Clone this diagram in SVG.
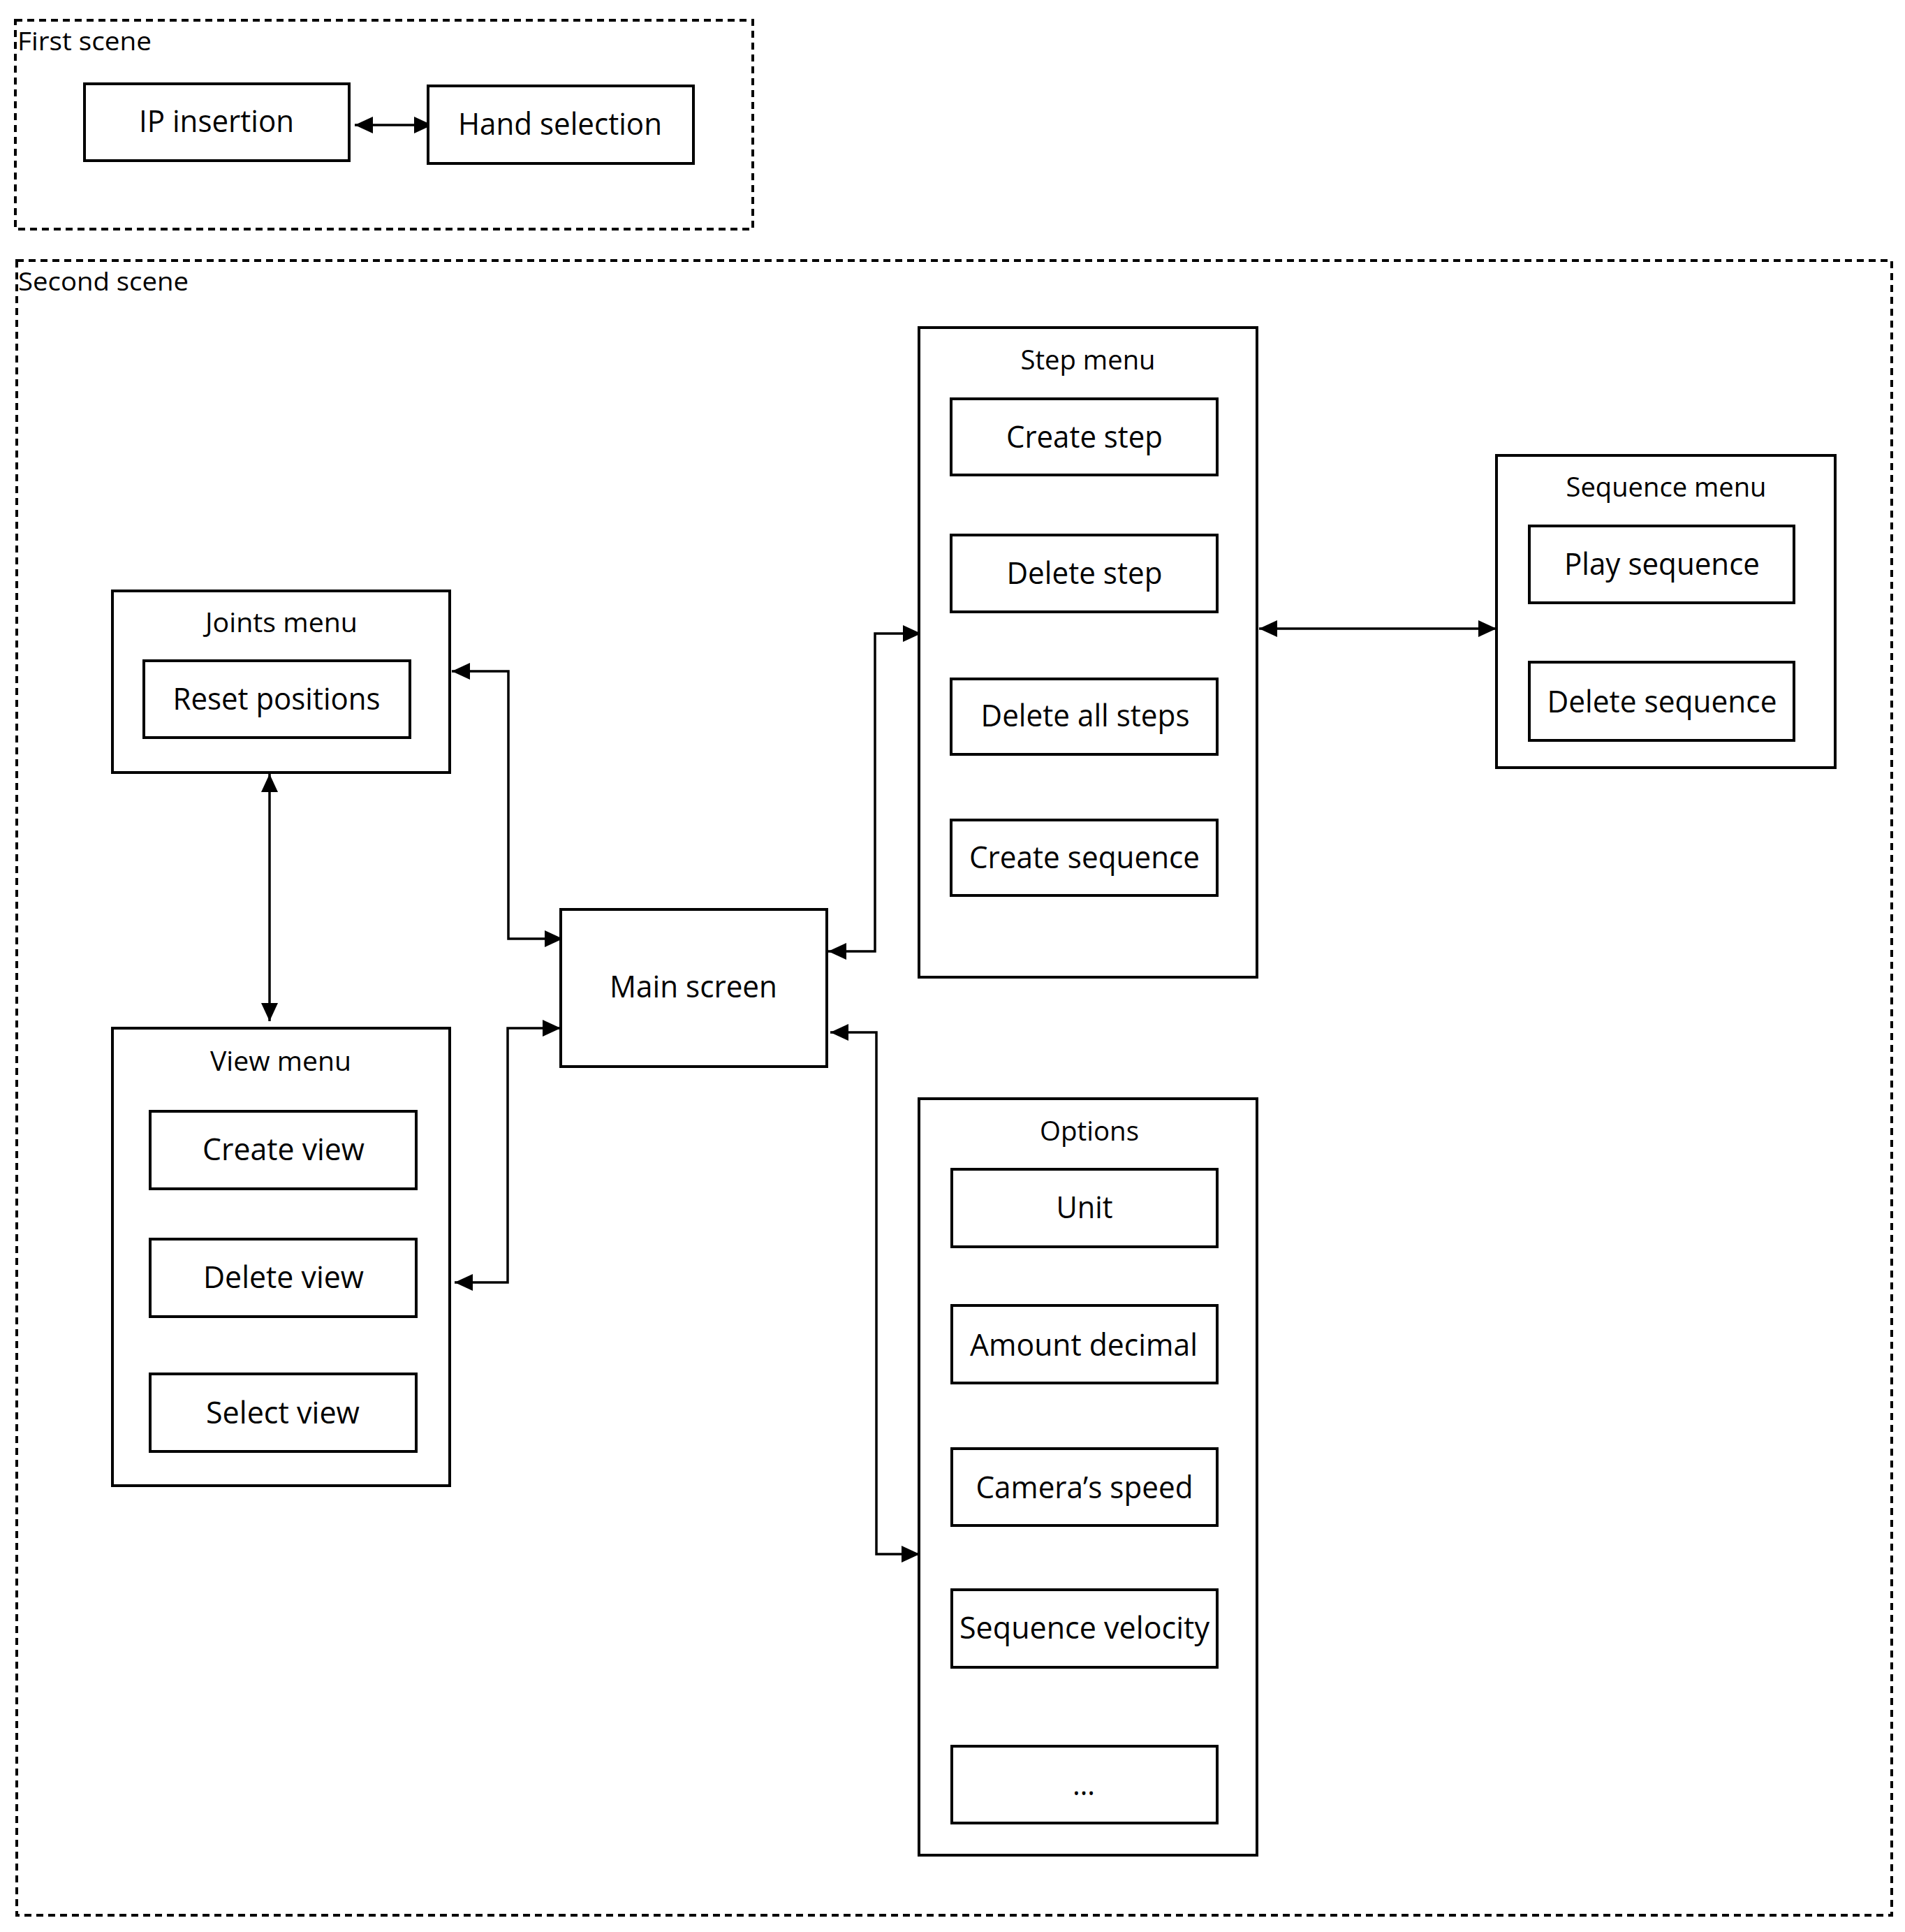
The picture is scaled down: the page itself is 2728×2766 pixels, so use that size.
<svg xmlns="http://www.w3.org/2000/svg" width="2728" height="2766" viewBox="0 0 2728 2766">
<style>
.scene{fill:none;stroke:#000;stroke-width:4;stroke-dasharray:10 7}
.box{fill:#fff;stroke:#000;stroke-width:4}
.t{font-family:"Open Sans","Noto Sans",sans-serif;fill:#000;text-anchor:middle;font-size:43px}
.ti{font-family:"Open Sans","Noto Sans",sans-serif;fill:#000;text-anchor:middle;font-size:39px}
.sl{font-family:"Open Sans","Noto Sans",sans-serif;fill:#000;font-size:37px}
.c{fill:none;stroke:#000;stroke-width:3.5}
</style>
<defs>
<marker id="ah" markerUnits="userSpaceOnUse" markerWidth="26" markerHeight="24" refX="26" refY="12" orient="auto-start-reverse">
<path d="M0,0 L26,12 L0,24 z" fill="#000"/>
</marker>
</defs>
<rect width="2728" height="2766" fill="#fff"/>

<g id="first-scene">
<rect class="scene" x="22" y="29" width="1056" height="299"/>
<text class="sl" x="25" y="72" textLength="192" lengthAdjust="spacingAndGlyphs">First scene</text>
</g>
<g id="second-scene">
<rect class="scene" x="24" y="373" width="2685" height="2369"/>
<text class="sl" x="26" y="416" textLength="244" lengthAdjust="spacingAndGlyphs">Second scene</text>
</g>

<g id="connectors">
<path class="c" d="M508,179 H619" marker-start="url(#ah)" marker-end="url(#ah)"/>
<path class="c" d="M386,1108 V1462" marker-start="url(#ah)" marker-end="url(#ah)"/>
<path class="c" d="M647,961 H728 V1344 H806" marker-start="url(#ah)" marker-end="url(#ah)"/>
<path class="c" d="M651,1836 H727 V1472 H803" marker-start="url(#ah)" marker-end="url(#ah)"/>
<path class="c" d="M1186,1362 H1253 V907 H1319" marker-start="url(#ah)" marker-end="url(#ah)"/>
<path class="c" d="M1189,1478 H1255 V2225 H1317" marker-start="url(#ah)" marker-end="url(#ah)"/>
<path class="c" d="M1803,900 H2143" marker-start="url(#ah)" marker-end="url(#ah)"/>
</g>

<g id="ip-insertion">
<rect class="box" x="121" y="120" width="379" height="110"/>
<text class="t" x="310" y="189" textLength="222" lengthAdjust="spacingAndGlyphs">IP insertion</text>
</g>
<g id="hand-selection">
<rect class="box" x="613" y="123" width="380" height="111"/>
<text class="t" x="802" y="193" textLength="292" lengthAdjust="spacingAndGlyphs">Hand selection</text>
</g>

<g id="joints-menu">
<rect class="box" x="161" y="846" width="483" height="260"/>
<text class="ti" x="403" y="905" textLength="218" lengthAdjust="spacingAndGlyphs">Joints menu</text>
<g id="reset-positions">
<rect class="box" x="206" y="946" width="381" height="110"/>
<text class="t" x="396" y="1016" textLength="297" lengthAdjust="spacingAndGlyphs">Reset positions</text>
</g>
</g>

<g id="view-menu">
<rect class="box" x="161" y="1472" width="483" height="655"/>
<text class="ti" x="402" y="1533" textLength="202" lengthAdjust="spacingAndGlyphs">View menu</text>
<g id="create-view">
<rect class="box" x="215" y="1591" width="381" height="111"/>
<text class="t" x="406" y="1661" textLength="232" lengthAdjust="spacingAndGlyphs">Create view</text>
</g>
<g id="delete-view">
<rect class="box" x="215" y="1774" width="381" height="111"/>
<text class="t" x="406" y="1844" textLength="230" lengthAdjust="spacingAndGlyphs">Delete view</text>
</g>
<g id="select-view">
<rect class="box" x="215" y="1967" width="381" height="111"/>
<text class="t" x="405" y="2038" textLength="220" lengthAdjust="spacingAndGlyphs">Select view</text>
</g>
</g>

<g id="main-screen">
<rect class="box" x="803" y="1302" width="381" height="225"/>
<text class="t" x="993" y="1428" textLength="240" lengthAdjust="spacingAndGlyphs">Main screen</text>
</g>

<g id="step-menu">
<rect class="box" x="1316" y="469" width="484" height="930"/>
<text class="ti" x="1558" y="529" textLength="193" lengthAdjust="spacingAndGlyphs">Step menu</text>
<g id="create-step">
<rect class="box" x="1362" y="571" width="381" height="109"/>
<text class="t" x="1553" y="641" textLength="224" lengthAdjust="spacingAndGlyphs">Create step</text>
</g>
<g id="delete-step">
<rect class="box" x="1362" y="766" width="381" height="110"/>
<text class="t" x="1553" y="836" textLength="223" lengthAdjust="spacingAndGlyphs">Delete step</text>
</g>
<g id="delete-all-steps">
<rect class="box" x="1362" y="972" width="381" height="108"/>
<text class="t" x="1554" y="1040" textLength="299" lengthAdjust="spacingAndGlyphs">Delete all steps</text>
</g>
<g id="create-sequence">
<rect class="box" x="1362" y="1174" width="381" height="108"/>
<text class="t" x="1553" y="1243" textLength="330" lengthAdjust="spacingAndGlyphs">Create sequence</text>
</g>
</g>

<g id="sequence-menu">
<rect class="box" x="2143" y="652" width="485" height="447"/>
<text class="ti" x="2386" y="711" textLength="287" lengthAdjust="spacingAndGlyphs">Sequence menu</text>
<g id="play-sequence">
<rect class="box" x="2190" y="753" width="379" height="110"/>
<text class="t" x="2380" y="823" textLength="280" lengthAdjust="spacingAndGlyphs">Play sequence</text>
</g>
<g id="delete-sequence">
<rect class="box" x="2190" y="948" width="379" height="112"/>
<text class="t" x="2380" y="1020" textLength="329" lengthAdjust="spacingAndGlyphs">Delete sequence</text>
</g>
</g>

<g id="options">
<rect class="box" x="1316" y="1573" width="484" height="1083"/>
<text class="ti" x="1560" y="1633" textLength="142" lengthAdjust="spacingAndGlyphs">Options</text>
<g id="unit">
<rect class="box" x="1363" y="1674" width="380" height="111"/>
<text class="t" x="1553" y="1744" textLength="81" lengthAdjust="spacingAndGlyphs">Unit</text>
</g>
<g id="amount-decimal">
<rect class="box" x="1363" y="1869" width="380" height="111"/>
<text class="t" x="1552" y="1941" textLength="326" lengthAdjust="spacingAndGlyphs">Amount decimal</text>
</g>
<g id="cameras-speed">
<rect class="box" x="1363" y="2074" width="380" height="110"/>
<text class="t" x="1553" y="2145" textLength="311" lengthAdjust="spacingAndGlyphs">Camera’s speed</text>
</g>
<g id="sequence-velocity">
<rect class="box" x="1363" y="2276" width="380" height="111"/>
<text class="t" x="1553" y="2346" textLength="358" lengthAdjust="spacingAndGlyphs">Sequence velocity</text>
</g>
<g id="more">
<rect class="box" x="1363" y="2500" width="380" height="110"/>
<text class="t" x="1552" y="2570" textLength="32" lengthAdjust="spacingAndGlyphs">…</text>
</g>
</g>
</svg>
